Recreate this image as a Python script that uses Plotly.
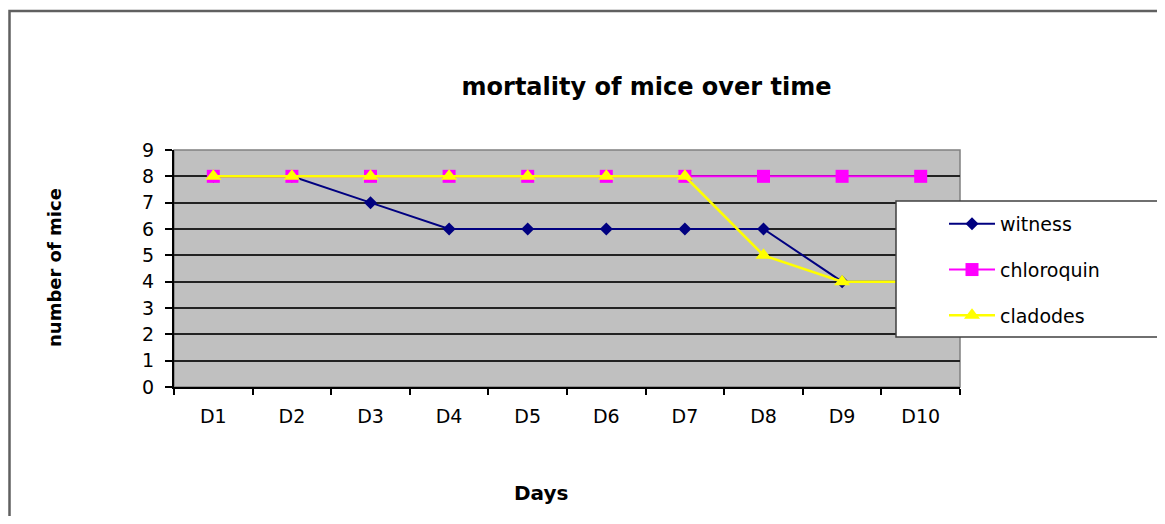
import plotly.graph_objects as go

days = ["D1", "D2", "D3", "D4", "D5", "D6", "D7", "D8", "D9", "D10"]
witness = [8, 8, 7, 6, 6, 6, 6, 6, 4, 4]
chloroquin = [8, 8, 8, 8, 8, 8, 8, 8, 8, 8]
cladodes = [8, 8, 8, 8, 8, 8, 8, 5, 4, 4]
y_ticks = [0, 1, 2, 3, 4, 5, 6, 7, 8, 9]

# page has an 8px body margin; work in page coordinates and convert
OFF = 8
W, H = 1165 - OFF, 524 - 2 * OFF
L, R, T, B = 174 - OFF, 960 - OFF, 150 - OFF, 387 - OFF
pw, ph = R - L, B - T

def px(x):
    return (x - OFF - L) / pw

def py(y):
    return (B - (y - OFF)) / ph

FONT = "DejaVu Sans, Arial, sans-serif"

fig = go.Figure()
fig.add_trace(go.Scatter(x=days, y=witness, name="witness", mode="lines+markers",
                         line=dict(color="#000080", width=2),
                         marker=dict(symbol="diamond", size=10, color="#000080"),
                         legendgroup="a"))
fig.add_trace(go.Scatter(x=days, y=chloroquin, name="chloroquin", mode="lines+markers",
                         line=dict(color="#FF00FF", width=2),
                         marker=dict(symbol="square", size=13, color="#FF00FF"),
                         legendgroup="b"))
fig.add_trace(go.Scatter(x=days, y=cladodes, name="cladodes", mode="lines+markers",
                         line=dict(color="#FFFF00", width=2.5),
                         marker=dict(symbol="triangle-up", size=14, color="#FFFF00"),
                         legendgroup="c"))

shapes = [
    dict(type="rect", xref="paper", yref="paper", x0=0, x1=1, y0=0, y1=1,
         line=dict(color="#808080", width=1.5), fillcolor="rgba(0,0,0,0)", layer="between"),
    dict(type="path", xref="paper", yref="paper",
         path=f"M {px(9.5)},{py(540)} L {px(9.5)},{py(11)} L {px(1180)},{py(11)}",
         line=dict(color="#606060", width=2.5), layer="above"),
    dict(type="rect", xref="paper", yref="paper", x0=px(896), x1=px(1159),
         y0=py(337), y1=py(201), line=dict(color="#404040", width=1.5),
         fillcolor="white", layer="above"),
]

annotations = [
    dict(text="<b>number of mice</b>", xref="paper", yref="paper", x=px(54), y=py(268),
         textangle=-90, showarrow=False, font=dict(family=FONT, size=18, color="black"),
         xanchor="center", yanchor="middle"),
    dict(text="<b>Days</b>", xref="paper", yref="paper", x=px(541), y=py(493),
         showarrow=False, font=dict(family=FONT, size=20, color="black"),
         xanchor="center", yanchor="middle"),
]

fig.update_layout(
    width=W, height=H,
    margin=dict(l=L, r=W - R, t=T, b=H - B, autoexpand=False),
    paper_bgcolor="white",
    plot_bgcolor="#C0C0C0",
    font=dict(family=FONT, size=19, color="black"),
    title=dict(text="<b>mortality of mice over time</b>", x=(646.5 - OFF) / W, xref="container",
               xanchor="center", y=1 - (87 - OFF) / H, yref="container", yanchor="middle",
               font=dict(family=FONT, size=24, color="black")),
    xaxis=dict(type="category", categoryorder="array", categoryarray=days,
               range=[-0.5, 9.5], showgrid=False, showline=True, linecolor="black",
               linewidth=2, ticks="outside", tickson="boundaries", ticklen=6,
               tickcolor="black", tickwidth=1.5, ticklabelstandoff=11,
               tickfont=dict(family=FONT, size=19), zeroline=False, fixedrange=True),
    yaxis=dict(range=[0, 9], tickvals=y_ticks, showgrid=True, gridcolor="#222222",
               gridwidth=1.5, showline=True, linecolor="black", linewidth=2,
               ticks="outside", ticklen=7, tickcolor="black", tickwidth=1.5,
               ticklabelstandoff=7, tickfont=dict(family=FONT, size=19),
               zeroline=False, fixedrange=True),
    showlegend=True,
    legend=dict(x=px(944), y=py(205), xanchor="left", yanchor="top",
                bgcolor="rgba(0,0,0,0)", borderwidth=0, traceorder="grouped",
                tracegroupgap=18, itemwidth=46,
                font=dict(family=FONT, size=19, color="black")),
    shapes=shapes,
    annotations=annotations,
)

fig.write_html("out.html")
